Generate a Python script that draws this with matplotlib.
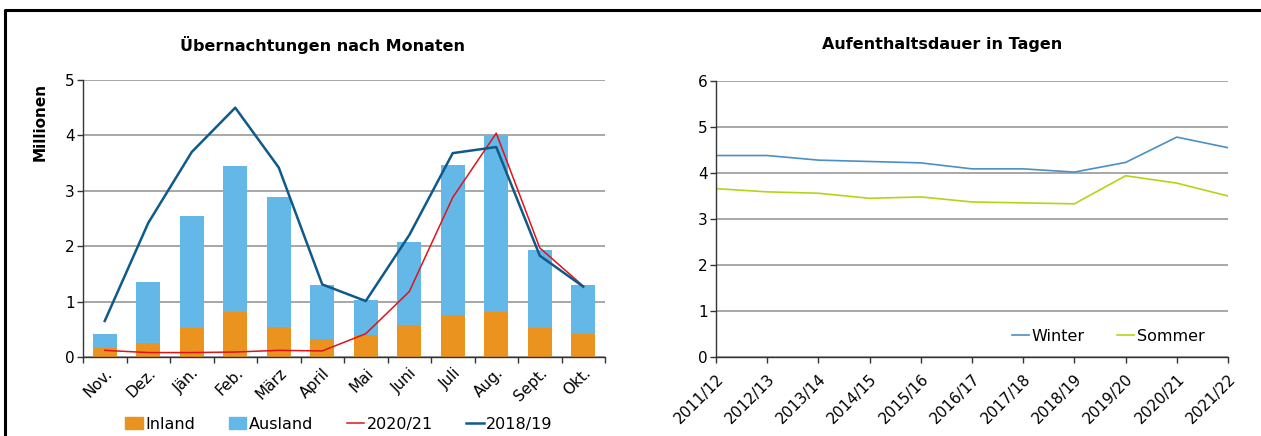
import matplotlib
matplotlib.use('Agg')
import matplotlib.pyplot as plt
from matplotlib.lines import Line2D
from matplotlib.patches import Patch
import numpy as np

plt.rcParams['font.family'] = ['DejaVu Sans']

# monthly overnight stays (millions)
months = ['Nov.', 'Dez.', 'Jän.', 'Feb.', 'März', 'April', 'Mai', 'Juni', 'Juli', 'Aug.', 'Sept.', 'Okt.']
inland = [0.17, 0.25, 0.53, 0.82, 0.55, 0.33, 0.40, 0.58, 0.76, 0.82, 0.53, 0.41]
total = [0.42, 1.35, 2.54, 3.44, 2.89, 1.30, 1.03, 2.08, 3.47, 4.00, 1.94, 1.30]
ausland = [t - i for t, i in zip(total, inland)]
season_2020_21 = [0.12, 0.08, 0.08, 0.09, 0.12, 0.11, 0.42, 1.18, 2.88, 4.04, 1.97, 1.28]
season_2018_19 = [0.65, 2.42, 3.70, 4.50, 3.42, 1.31, 1.01, 2.20, 3.68, 3.79, 1.83, 1.27]

# average length of stay (days)
seasons = ['2011/12', '2012/13', '2013/14', '2014/15', '2015/16', '2016/17',
           '2017/18', '2018/19', '2019/20', '2020/21', '2021/22']
winter = [4.38, 4.38, 4.28, 4.25, 4.22, 4.09, 4.09, 4.02, 4.23, 4.78, 4.55]
sommer = [3.66, 3.59, 3.56, 3.45, 3.48, 3.37, 3.35, 3.33, 3.94, 3.78, 3.50]

c_inland = '#EA931E'
c_ausland = '#63B8E8'
c_red = '#E0121B'
c_dark = '#0E5A8A'
c_winter = '#4A90C4'
c_sommer = '#B7D316'
grid_c = '#A0A0A0'

W, H = 1261, 436
fig = plt.figure(figsize=(W / 100, H / 100), dpi=100)


def box(x0, y0, x1, y1):
    # pixel box -> figure fraction
    return [x0 / W, 1 - y1 / H, (x1 - x0) / W, (y1 - y0) / H]


def style(ax):
    for s in ['top', 'right']:
        ax.spines[s].set_visible(False)
    for s in ['left', 'bottom']:
        ax.spines[s].set_color('#333333')
        ax.spines[s].set_linewidth(1.0)
    ax.yaxis.grid(True, color=grid_c, linewidth=1.3)
    ax.set_axisbelow(True)
    ax.tick_params(axis='both', direction='out', length=4, width=1, color='#333333',
                   labelsize=11, pad=2)


# left: Übernachtungen
ax1 = fig.add_axes(box(83, 80, 605, 357))
x = np.arange(len(months))
ax1.bar(x, inland, width=0.55, color=c_inland, edgecolor='none')
ax1.bar(x, ausland, width=0.55, bottom=inland, color=c_ausland, edgecolor='none')
ax1.plot(x, season_2020_21, color=c_red, linewidth=1.1)
ax1.plot(x, season_2018_19, color=c_dark, linewidth=1.8)
ax1.set_xlim(-0.5, len(months) - 0.5)
ax1.set_ylim(0, 5)
ax1.set_yticks(range(0, 6))
ax1.set_xticks(np.arange(-0.5, len(months), 1.0))
ax1.set_xticklabels([])
ax1.set_xticks(x, minor=True)
ax1.set_xticklabels(months, minor=True, rotation=45, ha='right', rotation_mode='anchor', fontsize=11)
ax1.tick_params(axis='x', which='minor', length=0, pad=6)
style(ax1)

fig.text(322 / W, 1 - 45 / H, 'Übernachtungen nach Monaten', ha='center', va='center',
         fontsize=11.5, fontweight='bold')
fig.text(40 / W, 1 - 122 / H, 'Millionen', ha='center', va='center', rotation=90,
         fontsize=11, fontweight='bold')

handles = [Patch(color=c_inland, label='Inland'),
           Patch(color=c_ausland, label='Ausland'),
           Line2D([], [], color=c_red, linewidth=1.1, label='2020/21'),
           Line2D([], [], color=c_dark, linewidth=1.8, label='2018/19')]
fig.legend(handles=handles, loc='center', bbox_to_anchor=(339 / W, 1 - 424 / H), ncol=4,
           frameon=False, fontsize=11.5, handlelength=1.1, handleheight=0.8,
           handletextpad=0.15, columnspacing=2.1, borderpad=0)

# right: Aufenthaltsdauer
ax2 = fig.add_axes(box(716, 81, 1228, 357))
xs = np.arange(len(seasons))
ax2.plot(xs, winter, color=c_winter, linewidth=1.2, label='Winter')
ax2.plot(xs, sommer, color=c_sommer, linewidth=1.2, label='Sommer')
ax2.set_xlim(0, len(seasons) - 1)
ax2.set_ylim(0, 6)
ax2.set_yticks(range(0, 7))
ax2.set_xticks(xs)
ax2.set_xticklabels(seasons, rotation=45, ha='right', rotation_mode='anchor', fontsize=11)
style(ax2)
ax2.tick_params(axis='x', pad=6)
ax2.legend(loc='center', bbox_to_anchor=(1108 / W, 1 - 336 / H), bbox_transform=fig.transFigure,
           ncol=2, frameon=False, fontsize=11.5, handlelength=1.1, handletextpad=0.15,
           columnspacing=2.0, borderpad=0)

fig.text(942 / W, 1 - 45 / H, 'Aufenthaltsdauer in Tagen', ha='center', va='center',
         fontsize=11.5, fontweight='bold')

# outer frame (top and left edge)
fig.add_artist(Line2D([5 / W, 5 / W, 1.0], [0.0, 1 - 10 / H, 1 - 10 / H],
                      transform=fig.transFigure, color='black', linewidth=2.2))

fig.savefig('out.png', dpi=100)
